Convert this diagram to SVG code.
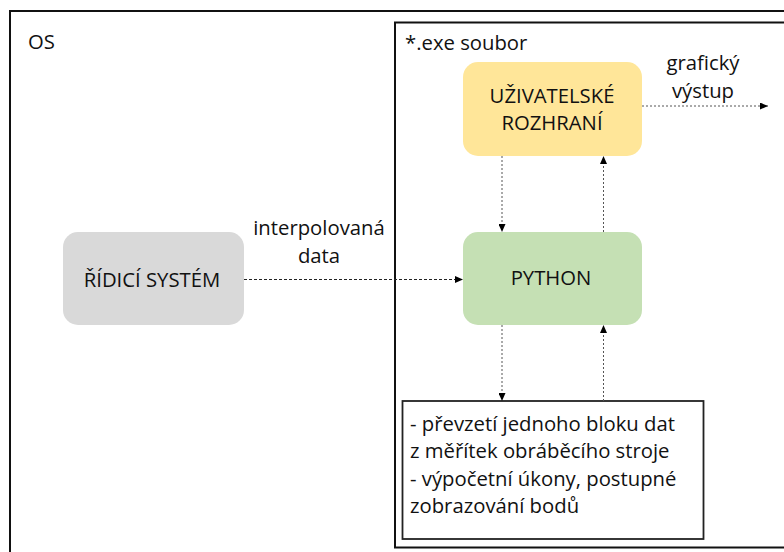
<svg xmlns="http://www.w3.org/2000/svg" width="784" height="552" viewBox="0 0 784 552">
  <defs>
    <marker id="arrow" markerUnits="userSpaceOnUse" markerWidth="8" markerHeight="7" refX="8" refY="3.5" orient="auto">
      <path d="M0,0 L8,3.5 L0,7 z" fill="#000"/>
    </marker>
    <style>
      text { font-family: "Open Sans", "Noto Sans", "DejaVu Sans", sans-serif; font-size: 20.3px; fill: #111; }
      .frame { fill: none; stroke: #111; }
      .mid { text-anchor: middle; }
      .node { stroke: none; }
      .flow { fill: none; stroke: #222; stroke-width: 1; stroke-dasharray: 3 2; marker-end: url(#arrow); }
      .flow-v { fill: none; stroke: #555; stroke-width: 1; stroke-dasharray: 2 2; marker-end: url(#arrow); }
    </style>
  </defs>

  <rect width="784" height="552" fill="#fff"/>

  <!-- operating system frame -->
  <g id="os-frame">
    <rect class="frame" x="10" y="11" width="800" height="560" stroke-width="2"/>
    <text x="28" y="48.5">OS</text>
  </g>

  <!-- executable frame -->
  <g id="exe-frame">
    <rect class="frame" x="395" y="22.5" width="420" height="525" stroke-width="2"/>
    <text x="405" y="49.5">*.exe soubor</text>
  </g>

  <g id="node-ridici">
    <rect class="node" x="63" y="232" width="181" height="93" rx="15" fill="#D9D9D9"/>
    <text class="mid" x="152" y="287">ŘÍDICÍ SYSTÉM</text>
  </g>

  <g id="node-ui">
    <rect class="node" x="463" y="62" width="179" height="94" rx="15" fill="#FFE699"/>
    <text class="mid" x="552" y="102.5">UŽIVATELSKÉ</text>
    <text class="mid" x="552" y="130">ROZHRANÍ</text>
  </g>

  <g id="node-python">
    <rect class="node" x="463" y="232" width="179" height="93" rx="15" fill="#C5E0B4"/>
    <text class="mid" x="551" y="285">PYTHON</text>
  </g>

  <g id="node-tasks">
    <rect x="402.5" y="401" width="301" height="138" fill="#fff" stroke="#222" stroke-width="1.8"/>
    <text x="410" y="431">- převzetí jednoho bloku dat</text>
    <text x="410" y="458">z měřítek obráběcího stroje</text>
    <text x="410" y="485.5">- výpočetní úkony, postupné</text>
    <text x="410" y="513">zobrazování bodů</text>
  </g>

  <!-- connectors -->
  <g id="connectors">
    <path class="flow" d="M244,279.5 H463"/>
    <path class="flow-v" d="M502,156 V232"/>
    <path class="flow-v" d="M603.5,232 V156"/>
    <path class="flow-v" d="M502,325 V401"/>
    <path class="flow-v" d="M603.5,401 V325"/>
    <path class="flow-v" d="M642,106 H768"/>
  </g>

  <!-- connector labels -->
  <g id="labels">
    <text class="mid" x="319" y="235">interpolovaná</text>
    <text class="mid" x="319" y="263">data</text>
    <text class="mid" x="703" y="70">grafický</text>
    <text class="mid" x="703" y="97.5">výstup</text>
  </g>
</svg>
